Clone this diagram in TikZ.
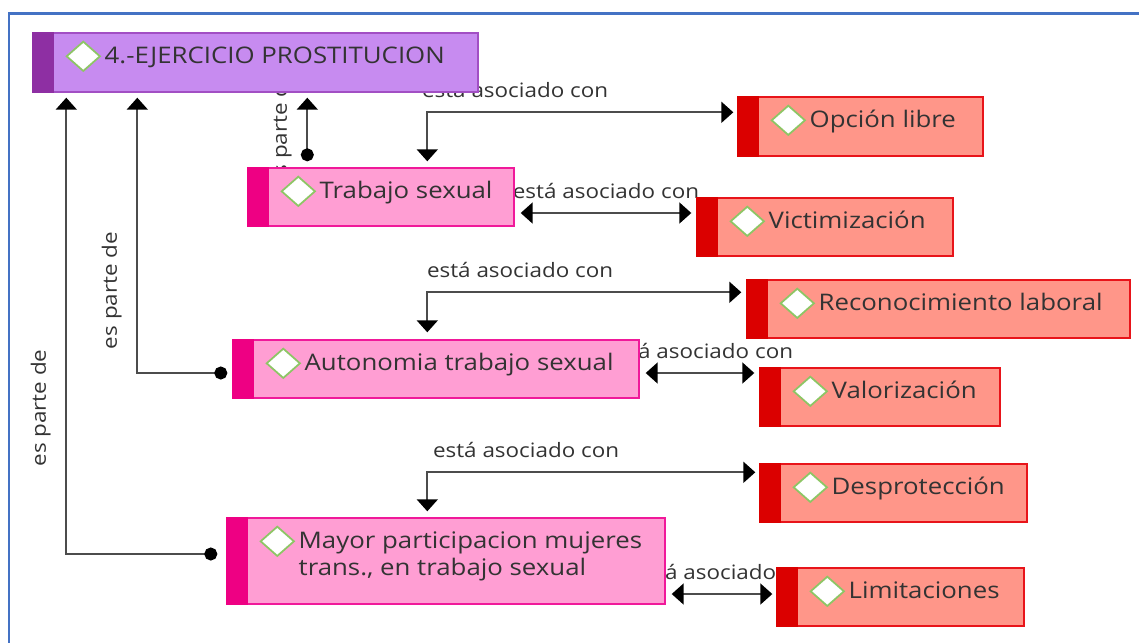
\documentclass[tikz,border=0pt]{standalone}
\usepackage{fontspec}
\setmainfont{Open Sans}[FakeStretch=1.13]
\usetikzlibrary{calc,fit,arrows.meta,backgrounds,shapes.geometric}

\definecolor{framecol}{HTML}{4472C4}
\definecolor{lilafill}{HTML}{C78BF0}
\definecolor{lilabar}{HTML}{8E2FA3}
\definecolor{lilaline}{HTML}{A24FC4}
\definecolor{rosafill}{HTML}{FF9ED3}
\definecolor{rosabar}{HTML}{EE0083}
\definecolor{rosaline}{HTML}{F0199A}
\definecolor{rojofill}{HTML}{FF9689}
\definecolor{rojobar}{HTML}{DB0000}
\definecolor{rojoline}{HTML}{E8141A}
\definecolor{gemgreen}{HTML}{8DC665}

\tikzset{
  box/.style={inner sep=0pt, line width=0.8pt},
  gem/.style={diamond, draw=gemgreen, fill=white, line width=1pt,
    minimum width=0.68cm, minimum height=0.6cm, inner sep=0pt},
  txt/.style={font=\fontsize{13}{15.6}\selectfont, text=black!80, inner sep=0pt},
  lbl/.style={font=\fontsize{11.3}{13}\selectfont, text=black!80, inner sep=1pt},
  alab/.style={lbl, anchor=south, yshift=0.24cm},
  plbl/.style={lbl, sloped, above=0.26cm},
  part/.style={line width=1.1pt, draw=black!70,
    {Circle[length=0.26cm, color=black]}-{Triangle[length=0.24cm,width=0.42cm,color=black]}},
  assoc/.style={line width=1.1pt, draw=black!70,
    {Triangle[length=0.24cm,width=0.42cm,color=black]}-{Triangle[length=0.24cm,width=0.42cm,color=black]}}
}

\begin{document}
\begin{tikzpicture}[x=0.02cm, y=-0.02cm]
  \useasboundingbox (0,0) rectangle (1139,643);
  \draw[line width=0.06cm, framecol] (1139,13) -- (9,13) -- (9,643);

  % conceptos
  \foreach \nm/\xa/\ya/\xb/\yb/\kind/\txt in {
      ejer/33/33/478/92/lila/{4.-EJERCICIO PROSTITUCION},
      trabajo/248/168/514/226/rosa/{Trabajo sexual},
      opcion/738/97/983/156/rojo/{Opción libre},
      victim/697/198/953/256/rojo/{Victimización},
      recon/747/280/1130/338/rojo/{Reconocimiento laboral},
      auton/233/340/639/398/rosa/{Autonomia trabajo sexual},
      valor/760/368/1000/426/rojo/{Valorización},
      despro/760/464/1027/522/rojo/{Desprotección},
      mayor/227/518/665/604/rosa/{\begin{tabular}[t]{@{}l@{}}Mayor participacion mujeres\\trans., en trabajo sexual\end{tabular}},
      limit/777/568/1024/626/rojo/{Limitaciones}}
  {
    \node[box, draw=\kind line, fill=\kind fill, fit={(\xa,\ya) (\xb,\yb)}] (\nm) {};
    \fill[\kind bar] (\nm.north west) rectangle ($(\nm.south west)+(22,0)$);
    \node[gem] at ($(\nm.north west)+(51,24)$) {};
    \node[txt, anchor=base west] at ($(\nm.north west)+(72,31)$) {\txt};
  }

  \begin{scope}[on background layer]
    % es parte de
    \draw[part] ($(trabajo.north west)+(60,-6)$) coordinate (t0)
      -- node[plbl, pos=.5] {es parte de} ($(t0 |- ejer.south)+(0,5)$);
    \draw[part] ($(auton.west)+(-5,4)$) -- ++(-90,0) coordinate (a1)
      -- node[plbl, pos=.3] {es parte de} ($(a1 |- ejer.south)+(0,5)$);
    \draw[part] ($(mayor.west)+(-9,-7)$) -- ++(-151,0) coordinate (m1)
      -- node[plbl, pos=.32] {es parte de} ($(m1 |- ejer.south)+(0,5)$);

    % está asociado con
    \draw[assoc] ($(trabajo.north west)+(180,-6)$)
      |- node[alab, pos=.5, anchor=south west, xshift=-0.16cm] {está asociado con}
      ($(opcion.north west)+(-4,16)$);
    \draw[assoc] ($(trabajo.east)+(6,16)$) coordinate (v0)
      -- node[alab] {está asociado con} ($(v0 -| victim.west)+(-5,0)$);
    \draw[assoc] ($(auton.north west)+(195,-7)$)
      |- node[alab, pos=.5, anchor=south west, xshift=-0.06cm] {está asociado con}
      ($(recon.north west)+(-5,13)$);
    \draw[assoc] ($(auton.east)+(6,4)$) coordinate (w0)
      -- node[alab] {está asociado con} ($(w0 -| valor.west)+(-5,0)$);
    \draw[assoc] ($(mayor.north west)+(201,-6)$)
      |- node[alab, pos=.5, anchor=south west, xshift=0.06cm] {está asociado con}
      ($(despro.north west)+(-4,9)$);
    \draw[assoc] ($(mayor.east)+(6,33)$) coordinate (z0)
      -- node[alab, xshift=0.1cm] {está asociado con} ($(z0 -| limit.west)+(-4,0)$);
  \end{scope}
\end{tikzpicture}
\end{document}
